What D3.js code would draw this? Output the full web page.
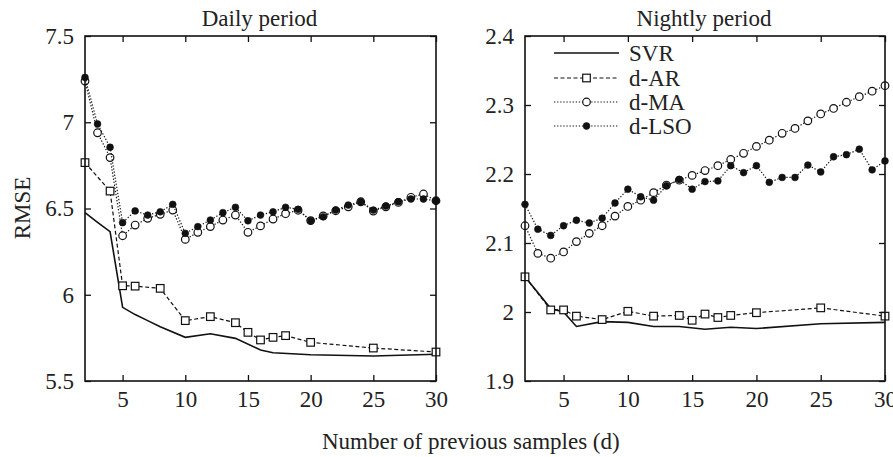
<!DOCTYPE html>
<html><head><meta charset="utf-8">
<script src="https://cdn.jsdelivr.net/npm/d3@7"></script>
<style>
html,body{margin:0;padding:0;background:#fff;}
svg text{font-family:"Liberation Serif","Times New Roman",serif;fill:#222;}
</style></head>
<body><svg id="chart" width="893" height="457"></svg>
<script>
// ---------- data ----------
const seriesNames = ["SVR", "d-AR", "d-MA", "d-LSO"];
const xTicks = [5, 10, 15, 20, 25, 30];
const dailyYTicks = [5.5, 6, 6.5, 7, 7.5];
const nightlyYTicks = [1.9, 2, 2.1, 2.2, 2.3, 2.4];
const allX = [2,3,4,5,6,7,8,9,10,11,12,13,14,15,16,17,18,19,20,21,22,23,24,25,26,27,28,29,30];

const dailySvrX = [2,3,4,5,6,7,8,10,12,14,16,17,20,25,30];
const dailySvr  = [6.476,6.42,6.366,5.927,5.885,5.85,5.815,5.753,5.774,5.747,5.68,5.664,5.652,5.645,5.655];
const dailyArX  = [2,4,5,6,8,10,12,14,15,16,17,18,20,25,30];
const dailyAr   = [6.766,6.601,6.052,6.05,6.037,5.85,5.873,5.838,5.782,5.738,5.753,5.763,5.724,5.691,5.668];
const dailyMa   = [7.239,6.939,6.795,6.342,6.404,6.443,6.466,6.491,6.321,6.362,6.395,6.433,6.462,6.362,6.399,6.439,6.47,6.49,6.43,6.457,6.487,6.51,6.539,6.485,6.51,6.535,6.565,6.584,6.545];
const dailyLso  = [7.26,6.99,6.855,6.418,6.486,6.462,6.481,6.524,6.356,6.395,6.433,6.476,6.507,6.429,6.462,6.481,6.507,6.495,6.429,6.452,6.491,6.52,6.539,6.491,6.514,6.539,6.555,6.555,6.545];

const nightSvrX = [2,4,5,6,8,10,12,14,16,18,20,25,30];
const nightSvr  = [2.051,2.005,2.0,1.979,1.986,1.985,1.979,1.979,1.975,1.978,1.976,1.983,1.985];
const nightArX  = [2,4,5,6,8,10,12,14,15,16,17,18,20,25,30];
const nightAr   = [2.051,2.003,2.003,1.994,1.989,2.001,1.994,1.995,1.988,1.997,1.992,1.995,1.999,2.006,1.994];
const nightMa   = [2.125,2.085,2.078,2.087,2.102,2.114,2.125,2.139,2.153,2.162,2.173,2.184,2.191,2.198,2.205,2.212,2.221,2.230,2.240,2.249,2.259,2.266,2.277,2.287,2.295,2.304,2.312,2.320,2.328];
const nightLso  = [2.156,2.120,2.111,2.125,2.133,2.129,2.136,2.158,2.178,2.167,2.162,2.183,2.192,2.178,2.189,2.190,2.212,2.202,2.212,2.188,2.195,2.195,2.213,2.203,2.225,2.228,2.236,2.206,2.219];

// ---------- drawing ----------
const svg = d3.select("#chart");
const FS = 23;
const plotTop = 36, plotBottom = 381;

const styles = {
  "SVR":  {dash: null, marker: null},
  "d-AR": {dash: "4,2.5", marker: "square"},
  "d-MA": {dash: "1.3,1.8", marker: "open"},
  "d-LSO":{dash: "1.3,1.8", marker: "filled"}
};

function drawMarker(g, type, cx, cy) {
  if (type === "square") {
    g.append("rect").attr("x", cx-3.8).attr("y", cy-3.8).attr("width", 7.6).attr("height", 7.6)
      .attr("fill", "#fff").attr("stroke", "#111").attr("stroke-width", 1.2);
  } else if (type === "open") {
    g.append("circle").attr("cx", cx).attr("cy", cy).attr("r", 3.8)
      .attr("fill", "#fff").attr("stroke", "#111").attr("stroke-width", 1.2);
  } else if (type === "filled") {
    g.append("circle").attr("cx", cx).attr("cy", cy).attr("r", 3.4)
      .attr("fill", "#111").attr("stroke", "#111").attr("stroke-width", 0.6);
  }
}

function panel(opts) {
  const x = d3.scaleLinear().domain([2, 30]).range([opts.left, opts.right]);
  const y = d3.scaleLinear().domain(opts.yDomain).range([plotBottom, plotTop]);
  const g = svg.append("g");

  const series = [
    {name: "SVR", xs: opts.svrX, ys: opts.svr},
    {name: "d-AR", xs: opts.arX, ys: opts.ar},
    {name: "d-MA", xs: allX, ys: opts.ma},
    {name: "d-LSO", xs: allX, ys: opts.lso}
  ];
  const line = d3.line().x(d => x(d[0])).y(d => y(d[1]));
  series.forEach(s => {
    const pts = s.xs.map((v, i) => [v, s.ys[i]]);
    const st = styles[s.name];
    g.append("path").attr("d", line(pts)).attr("fill", "none")
      .attr("stroke", "#111").attr("stroke-width", s.name === "SVR" ? 1.6 : 1.2)
      .attr("stroke-dasharray", st.dash);
    if (st.marker) pts.forEach(p => drawMarker(g, st.marker, x(p[0]), y(p[1])));
  });

  // axes (inward ticks on all sides)
  const tl = 6;
  const ax = g.append("g");
  ax.append("g").attr("transform", `translate(0,${plotBottom})`)
    .call(d3.axisBottom(x).tickValues(xTicks).tickSize(-tl).tickPadding(10).tickFormat(d3.format("d")))
    .call(a => a.select(".domain").remove());
  ax.append("g").attr("transform", `translate(0,${plotTop})`)
    .call(d3.axisTop(x).tickValues(xTicks).tickSize(-tl).tickFormat(""))
    .call(a => a.select(".domain").remove());
  ax.append("g").attr("transform", `translate(${opts.left},0)`)
    .call(d3.axisLeft(y).tickValues(opts.yTicks).tickSize(-tl).tickPadding(11).tickFormat(d => String(d)))
    .call(a => a.select(".domain").remove());
  ax.append("g").attr("transform", `translate(${opts.right},0)`)
    .call(d3.axisRight(y).tickValues(opts.yTicks).tickSize(-tl).tickFormat(""))
    .call(a => a.select(".domain").remove());
  ax.selectAll(".tick line").attr("stroke", "#111").attr("stroke-width", 1.3);
  ax.selectAll(".tick text").attr("font-size", FS).attr("font-family", "Liberation Serif").attr("fill", "#222");
  g.append("rect").attr("x", opts.left).attr("y", plotTop).attr("width", opts.right - opts.left)
    .attr("height", plotBottom - plotTop).attr("fill", "none").attr("stroke", "#111").attr("stroke-width", 1.6);

  g.append("text").attr("x", (opts.left + opts.right) / 2 - 1).attr("y", 26)
    .attr("text-anchor", "middle").attr("font-size", FS).text(opts.title);
  return {x, y, g};
}

panel({left: 85, right: 436, yDomain: [5.5, 7.5], yTicks: dailyYTicks, title: "Daily period",
  svrX: dailySvrX, svr: dailySvr, arX: dailyArX, ar: dailyAr, ma: dailyMa, lso: dailyLso});
panel({left: 525, right: 885, yDomain: [1.9, 2.4], yTicks: nightlyYTicks, title: "Nightly period",
  svrX: nightSvrX, svr: nightSvr, arX: nightArX, ar: nightAr, ma: nightMa, lso: nightLso});

// legend
const lg = svg.append("g");
const legendRows = [53, 78, 102, 126];
seriesNames.forEach((n, i) => {
  const yy = legendRows[i];
  const st = styles[n];
  lg.append("line").attr("x1", 554).attr("x2", 619).attr("y1", yy).attr("y2", yy)
    .attr("stroke", "#111").attr("stroke-width", n === "SVR" ? 1.6 : 1.2).attr("stroke-dasharray", st.dash);
  if (st.marker) drawMarker(lg, st.marker, 586.5, yy);
  lg.append("text").attr("x", 629).attr("y", yy).attr("dy", "0.35em").attr("font-size", FS).text(n);
});

// axis titles
svg.append("text").attr("x", 322).attr("y", 449).attr("text-anchor", "start").attr("font-size", FS)
  .text("Number of previous samples (d)");
svg.append("text").attr("transform", "translate(30,208) rotate(-90)").attr("text-anchor", "middle")
  .attr("font-size", FS).text("RMSE");
</script></body></html>
